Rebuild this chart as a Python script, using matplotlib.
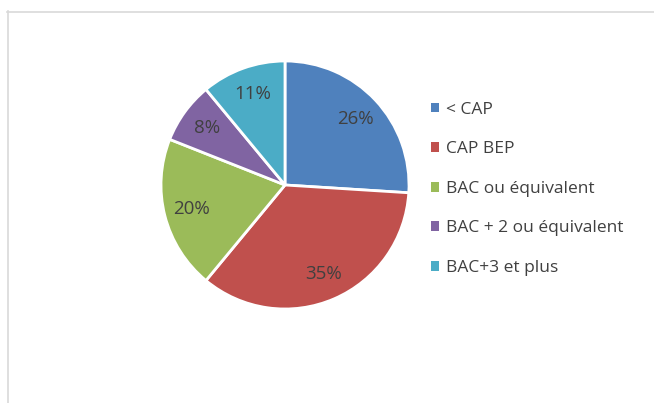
import matplotlib.pyplot as plt
from matplotlib.lines import Line2D
from matplotlib.patches import Patch

labels = ['< CAP', 'CAP BEP', 'BAC ou équivalent', 'BAC + 2 ou équivalent', 'BAC+3 et plus']
values = [26, 35, 20, 8, 11]
colors = ['#4F81BD', '#C0504D', '#9BBB59', '#8064A2', '#4BACC6']

plt.rcParams['font.family'] = ['Open Sans', 'DejaVu Sans']

W, H = 654, 403
fig = plt.figure(figsize=(W / 100, H / 100), dpi=100)

# light grey frame, cut off on the right and bottom
fig.add_artist(Line2D([7.5 / W, 7.5 / W], [0, 1 - 11 / H], color='#d9d9d9', lw=1.2))
fig.add_artist(Line2D([7 / W, 1], [1 - 11.5 / H, 1 - 11.5 / H], color='#d9d9d9', lw=1.2))

cx, cy, r = 285, 185, 124
ax = fig.add_axes([(cx - r) / W, (H - cy - r) / H, 2 * r / W, 2 * r / H])
wedges, texts = ax.pie(values, colors=colors, startangle=90, counterclock=False,
                       labels=[f'{v}%' for v in values], labeldistance=0.78,
                       wedgeprops=dict(edgecolor='white', linewidth=2, clip_on=False),
                       textprops=dict(color='#404040', fontsize=13.5))
for t in texts:
    t.set_horizontalalignment('center')
    t.set_verticalalignment('center')
ax.set_xlim(-1, 1)
ax.set_ylim(-1, 1)

handles = [Patch(facecolor=c, edgecolor='none') for c in colors]
fig.legend(handles, labels, loc='upper left', bbox_to_anchor=(415 / W, 1 - 86 / H),
           frameon=False, fontsize=12.5, labelcolor='#404040',
           handlelength=0.5, handleheight=0.5, handletextpad=0.4, labelspacing=1.36)

fig.savefig('out.png', dpi=100)
